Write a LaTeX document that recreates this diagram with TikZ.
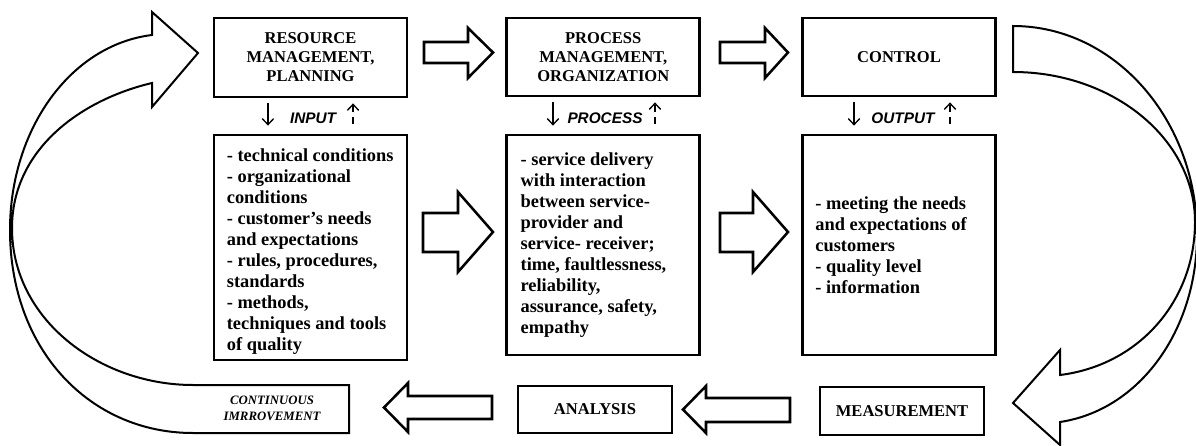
\documentclass[tikz,border=0pt]{standalone}
\usepackage{fontspec}
\setmainfont{Liberation Serif}
\newfontfamily\lsans{Liberation Sans}
\usetikzlibrary{arrows.meta}
\begin{document}
\begin{tikzpicture}[x=0.75pt,y=-0.75pt,
  box/.style={draw, line width=2.1pt, inner sep=0pt},
  ttl/.style={font=\fontsize{12.4}{14.3}\selectfont\bfseries, align=center},
  lst/.style={font=\fontsize{13.8}{15.75}\selectfont\bfseries, align=left, inner sep=0pt, anchor=west},
  blk/.style={draw, line width=1.9pt, fill=white, line join=miter},
  crv/.style={draw, line width=1.5pt, fill=white, line join=miter},
  lbl/.style={font=\lsans\fontsize{11.5}{13}\selectfont\bfseries\itshape, inner sep=0pt},
  sm/.style={line width=1pt, -{Straight Barb[length=4.5pt,width=8.5pt]}},
  smd/.style={sm, dash pattern=on 5pt off 4pt}
]
\useasboundingbox (0,0) rectangle (1196,446);

% curved arrows
\draw[crv] (198,53) -- (152,12) -- (152,35)
  .. controls (70,45) and (10,130) .. (10,230)
  .. controls (10,350) and (90,433) .. (193,433)
  -- (349,433) -- (349,385) -- (193,385)
  .. controls (100,385) and (12,320) .. (12,228)
  .. controls (12,150) and (80,100) .. (152,83)
  -- (152,107) -- cycle;
\node[font=\fontsize{9.6}{12}\selectfont\bfseries\itshape, align=center] (impr) at (272,408) {CONTINUOUS\\IMRROVEMENT};

\draw[crv] (1013,26)
  .. controls (1115,26) and (1197,120) .. (1197,235)
  .. controls (1197,330) and (1140,410) .. (1060,422)
  -- (1060,445) -- (1013,403) -- (1060,350) -- (1060,375)
  .. controls (1140,365) and (1195,300) .. (1195,222)
  .. controls (1195,139) and (1113,72) .. (1013,72) -- cycle;

% top boxes
\node[box, minimum width=144.75pt, minimum height=59.25pt, ttl] (b1) at (310.5,57.5) {RESOURCE\\MANAGEMENT,\\PLANNING};
\node[box, minimum width=144.75pt, minimum height=58.5pt, ttl] (b2) at (603.25,57) {PROCESS\\MANAGEMENT,\\ORGANIZATION};
\node[box, minimum width=144.75pt, minimum height=58.5pt, ttl] (b3) at (899,57) {CONTROL};

% lower boxes
\node[box, minimum width=144.75pt, minimum height=168.75pt] (b4) at (310.5,247.5) {};
\node[box, minimum width=144.75pt, minimum height=165pt] (b5) at (603.25,245) {};
\node[box, minimum width=144.75pt, minimum height=165pt] (b6) at (899,245) {};

\node[lst] (t4) at ([xshift=10.5pt,yshift=-3pt]b4.west) {- technical conditions\\- organizational\\conditions\\- customer’s needs\\and expectations\\- rules, procedures,\\standards\\- methods,\\techniques and tools\\of quality};
\node[lst] (t5) at ([xshift=11.25pt]b5.west) {- service delivery\\with interaction\\between service-\\provider and\\service- receiver;\\time, faultlessness,\\reliability,\\assurance, safety,\\empathy};
\node[lst] (t6) at ([xshift=10.5pt]b6.west) {- meeting the needs\\and expectations of\\customers\\- quality level\\- information};

% bottom boxes
\node[box, minimum width=115.5pt, minimum height=35.25pt, ttl] (an) at (595,409.5) {ANALYSIS};
\node[box, minimum width=123pt, minimum height=36pt, ttl] (me) at (902,411) {MEASUREMENT};

% small arrows and labels
\draw[sm, shorten <=3.75pt, shorten >=6pt] ([xshift=-31.9pt]b1.south) -- ([xshift=-31.9pt]b4.north);
\draw[smd, shorten <=7.5pt, shorten >=3.75pt] ([xshift=31.9pt]b4.north) -- ([xshift=31.9pt]b1.south);
\node[lbl] (lin) at (313,118) {INPUT};

\draw[sm, shorten <=3.75pt, shorten >=6pt] ([xshift=-37.7pt]b2.south) -- ([xshift=-37.7pt]b5.north);
\draw[smd, shorten <=7.5pt, shorten >=3.75pt] ([xshift=38.8pt]b5.north) -- ([xshift=38.8pt]b2.south);
\node[lbl] (lpr) at (605,118) {PROCESS};

\draw[sm, shorten <=3.75pt, shorten >=6pt] ([xshift=-33.75pt]b3.south) -- ([xshift=-33.75pt]b6.north);
\draw[smd, shorten <=7.5pt, shorten >=3.75pt] ([xshift=38.25pt]b6.north) -- ([xshift=38.25pt]b3.south);
\node[lbl] (lou) at (903,118) {OUTPUT};

% block arrows
\draw[blk] (424,42) -- (468,42) -- (468,28) -- (493,52.5) -- (468,78) -- (468,63) -- (424,63) -- cycle;
\draw[blk] (720,42) -- (765,42) -- (765,28) -- (788,52.5) -- (765,78) -- (765,63) -- (720,63) -- cycle;
\draw[blk] (423,213) -- (458,213) -- (458,192) -- (493,232) -- (458,272) -- (458,252) -- (423,252) -- cycle;
\draw[blk] (720,213) -- (753,213) -- (753,192) -- (788,232) -- (753,272) -- (753,252) -- (720,252) -- cycle;
\draw[blk] (790,398) -- (706,398) -- (706,386) -- (683,409.5) -- (706,433) -- (706,422) -- (790,422) -- cycle;
\draw[blk] (492,396) -- (408,396) -- (408,383) -- (384,407.5) -- (408,432) -- (408,419) -- (492,419) -- cycle;
\end{tikzpicture}
\end{document}
